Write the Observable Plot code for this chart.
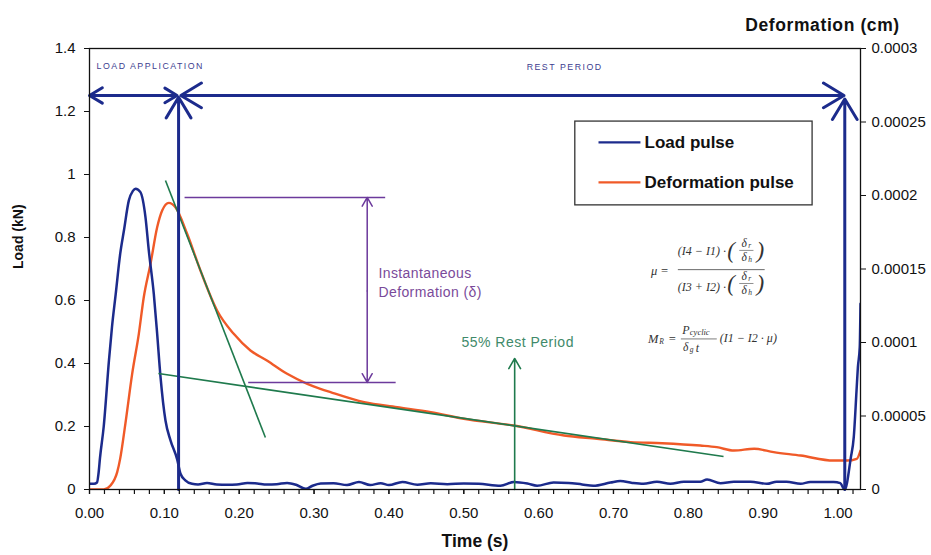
<!DOCTYPE html>
<html><head><meta charset="utf-8">
<script src="https://cdn.jsdelivr.net/npm/d3@7"></script>
<script src="https://cdn.jsdelivr.net/npm/@observablehq/plot@0.6"></script>
<style>body{margin:0;background:#fff}</style>
</head><body><div id="chart"></div>
<script>
// ---- data: [time (s), load (kN)]
const loadPulse = [
  [0.000,0.018],[0.006,0.018],[0.010,0.022],[0.012,0.05],[0.014,0.10],[0.019,0.20],[0.026,0.41],
  [0.030,0.515],[0.035,0.62],[0.041,0.748],[0.046,0.822],[0.0525,0.917],[0.058,0.948],[0.0615,0.955],
  [0.068,0.944],[0.0748,0.864],[0.0792,0.759],[0.0859,0.621],[0.0904,0.494],[0.0949,0.357],
  [0.1015,0.219],[0.1082,0.156],[0.1172,0.095],[0.1216,0.05],[0.128,0.029],[0.137,0.018],
  [0.145,0.016],[0.157,0.021],[0.170,0.016],[0.184,0.015],[0.197,0.016],[0.211,0.021],[0.224,0.019],
  [0.237,0.016],[0.250,0.017],[0.264,0.021],[0.276,0.015],[0.289,0.002],[0.298,0.012],[0.309,0.019],
  [0.326,0.020],[0.344,0.014],[0.360,0.024],[0.375,0.014],[0.389,0.020],[0.400,0.014],[0.418,0.024],
  [0.438,0.015],[0.456,0.020],[0.478,0.017],[0.500,0.019],[0.520,0.018],[0.549,0.012],[0.567,0.024],
  [0.585,0.019],[0.598,0.012],[0.620,0.022],[0.640,0.021],[0.658,0.016],[0.673,0.012],[0.696,0.022],
  [0.709,0.027],[0.725,0.021],[0.740,0.018],[0.758,0.025],[0.776,0.018],[0.794,0.025],[0.816,0.025],
  [0.825,0.032],[0.843,0.020],[0.861,0.025],[0.883,0.025],[0.905,0.018],[0.918,0.025],[0.931,0.025],
  [0.950,0.018],[0.963,0.024],[0.994,0.024],[1.003,0.020],[1.009,0.0],[1.017,0.10],[1.021,0.166],
  [1.0247,0.314],[1.0265,0.388],[1.029,0.452],[1.030,0.59]
];
// ---- data: [time (s), deformation (cm)]
const deformationPulse = [
  [0,0],[0.019,0],[0.028,0.0000027],[0.037,0.0000118],[0.041,0.000021],[0.048,0.000045],
  [0.057,0.0000787],[0.0659,0.0001059],[0.0725,0.0001308],[0.0815,0.0001535],[0.0904,0.0001784],
  [0.0971,0.0001898],[0.106,0.000195],[0.1148,0.000192],[0.1304,0.000174],[0.1482,0.000149],
  [0.1704,0.0001218],[0.1927,0.0001059],[0.215,0.0000946],[0.237,0.0000878],[0.264,0.0000787],
  [0.291,0.0000719],[0.3084,0.0000685],[0.322,0.0000662],[0.367,0.0000594],[0.411,0.000056],
  [0.456,0.0000526],[0.500,0.0000481],[0.567,0.0000435],[0.634,0.0000367],[0.678,0.0000345],
  [0.723,0.0000322],[0.765,0.0000315],[0.816,0.0000299],[0.838,0.0000288],[0.861,0.0000265],
  [0.888,0.0000277],[0.914,0.0000254],[0.950,0.0000231],[0.994,0.0000197],[1.012,0.0000197],
  [1.025,0.0000209],[1.030,0.0000265]
];
// ---- ticks
const timeTicks = [0,0.1,0.2,0.3,0.4,0.5,0.6,0.7,0.8,0.9,1.0];
const timeTickLabels = ["0.00","0.10","0.20","0.30","0.40","0.50","0.60","0.70","0.80","0.90","1.00"];
const timeMinorTicks = d3.range(0, 52).map(i => i * 0.02);
const loadTicks = [0,0.2,0.4,0.6,0.8,1,1.2,1.4];
const loadTickLabels = ["0","0.2","0.4","0.6","0.8","1","1.2","1.4"];
const defTicks = [0,0.00005,0.0001,0.00015,0.0002,0.00025,0.0003];
const defTickLabels = ["0","0.00005","0.0001","0.00015","0.0002","0.00025","0.0003"];
const legendItems = ["Load pulse","Deformation pulse"];

const loadMax = 1.4, defMax = 0.0003, ratio = loadMax / defMax;
const BLUE = "#1c2b8c", ORANGE = "#f05a28", GREEN = "#1f7a4d", PURPLE = "#6c3a9c";
const SANS = "Liberation Sans, Arial, sans-serif", SERIF = "Liberation Serif, Times New Roman, serif";

// ---- annotations (data coordinates)
const topArrows = [
  {x1:0.06,x2:0.0,y1:1.251,y2:1.251},{x1:0.06,x2:0.117,y1:1.251,y2:1.251},
  {x1:0.56,x2:0.122,y1:1.251,y2:1.251},{x1:0.56,x2:1.008,y1:1.251,y2:1.251},
  {x1:0.119,x2:0.119,y1:0,y2:1.245},{x1:1.009,x2:1.009,y1:0,y2:1.24}
];
const phaseLabels = [{x:0.0094,y:1.344,t:"LOAD APPLICATION"},{x:0.584,y:1.340,t:"REST PERIOD"}];
const greenLines = [{x1:0.1015,y1:0.981,x2:0.235,y2:0.165},{x1:0.092,y1:0.368,x2:0.847,y2:0.105}];
const purpleLines = [{x1:0.127,x2:0.395,y1:0.927,y2:0.927},{x1:0.212,x2:0.409,y1:0.340,y2:0.340}];
const purpleArrows = [{x1:0.371,x2:0.371,y1:0.63,y2:0.927},{x1:0.371,x2:0.371,y1:0.63,y2:0.340}];
const legendBox = {x1:0.649,x2:0.966,y1:0.902,y2:1.168};
const legendRows = [{y:1.102,c:BLUE},{y:0.975,c:ORANGE}];

const formula = [
  {x:0.750,y:0.695,t:"μ =",s:12.5},
  {x:0.786,y:0.758,t:"(I4 − I1) ·",s:12},
  {x:0.852,y:0.757,t:"(",s:23},{x:0.891,y:0.757,t:")",s:23},
  {x:0.871,y:0.781,t:"δ",s:11.5},{x:0.880,y:0.775,t:"r",s:7.5},
  {x:0.871,y:0.737,t:"δ",s:11.5},{x:0.880,y:0.731,t:"h",s:7.5},
  {x:0.786,y:0.641,t:"(I3 + I2) ·",s:12},
  {x:0.852,y:0.652,t:"(",s:23},{x:0.891,y:0.652,t:")",s:23},
  {x:0.871,y:0.676,t:"δ",s:11.5},{x:0.880,y:0.670,t:"r",s:7.5},
  {x:0.871,y:0.632,t:"δ",s:11.5},{x:0.880,y:0.626,t:"h",s:7.5},
  {x:0.746,y:0.479,t:"M",s:12.5},{x:0.761,y:0.469,t:"R",s:7.5},{x:0.773,y:0.479,t:"=",s:12.5},
  {x:0.792,y:0.506,t:"P",s:12},{x:0.802,y:0.498,t:"cyclic",s:8.5},
  {x:0.793,y:0.450,t:"δ",s:11.5},{x:0.802,y:0.443,t:"g",s:7.5},{x:0.810,y:0.450,t:"t",s:12},
  {x:0.842,y:0.479,t:"(I1 − I2 · μ)",s:12}
];
const formulaBars = [
  {x1:0.786,x2:0.902,y:0.698,w:0.8},
  {x1:0.868,x2:0.887,y:0.759,w:0.6},{x1:0.868,x2:0.887,y:0.654,w:0.6},
  {x1:0.790,x2:0.838,y:0.478,w:0.7}
];

const plot = Plot.plot({
  width: 931, height: 555,
  marginLeft: 89, marginRight: 71, marginTop: 48, marginBottom: 66,
  style: {fontFamily: SANS, fontSize: "15px", color: "#111", background: "#fff"},
  x: {domain: [0, 1.03]},
  y: {domain: [0, loadMax]},
  marks: [
    // curves
    Plot.line(deformationPulse, {x: d => d[0], y: d => d[1] * ratio, stroke: ORANGE, strokeWidth: 2.4, curve: "monotone-x", clip: true}),
    Plot.line(loadPulse, {x: d => d[0], y: d => d[1], stroke: BLUE, strokeWidth: 2.5, curve: "monotone-x", clip: true}),
    // green tangents and rest-period marker
    Plot.link(greenLines, {x1:"x1",y1:"y1",x2:"x2",y2:"y2", stroke: GREEN, strokeWidth: 1.6}),
    Plot.arrow([{x:0.568}], {x1:"x",x2:"x",y1:()=>0,y2:()=>0.416, stroke: GREEN, strokeWidth: 1.6, headLength: 11, headAngle: 60}),
    Plot.text(["55% Rest Period"], {x:()=>0.572, y:()=>0.467, fill:"#3f8a6a", fontSize: 14, textAnchor:"middle"}),
    // purple instantaneous deformation
    Plot.link(purpleLines, {x1:"x1",y1:"y1",x2:"x2",y2:"y2", stroke: PURPLE, strokeWidth: 1.5}),
    Plot.arrow(purpleArrows, {x1:"x1",y1:"y1",x2:"x2",y2:"y2", stroke: PURPLE, strokeWidth: 1.5, headLength: 10, headAngle: 60}),
    Plot.text(["Instantaneous","Deformation (δ)"], {x:()=>0.386, y:(d,i)=> i ? 0.625 : 0.686, fill:"#7a4a9a", fontSize: 14, textAnchor:"start"}),
    // blue phase arrows
    Plot.arrow(topArrows, {x1:"x1",y1:"y1",x2:"x2",y2:"y2", stroke: BLUE, strokeWidth: 3, headLength: 12, headAngle: 62}),
    Plot.text(phaseLabels, {x:"x", y:"y", text:"t", fill:"#3d3d8f", fontSize: 8.8, textAnchor:"start"}),
    // formulas
    Plot.text(formula, {x:"x", y:"y", text:"t", fontSize:"s", fontFamily: SERIF, fontStyle:"italic", fill:"#333", textAnchor:"start"}),
    Plot.link(formulaBars, {x1:"x1",x2:"x2",y1:"y",y2:"y", stroke:"#444", strokeWidth:"w"}),
    // legend
    Plot.rect([legendBox], {x1:"x1",x2:"x2",y1:"y1",y2:"y2", fill:"#fff", stroke:"#333", strokeWidth:1.3}),
    Plot.link(legendRows, {x1:()=>0.680, x2:()=>0.736, y1:"y", y2:"y", stroke: d => d.c, strokeWidth: 2.2}),
    Plot.text(legendItems, {x:()=>0.7415, y:(d,i)=> legendRows[i].y, fontSize: 17, fontWeight:"bold", fill:"#111", textAnchor:"start"}),
    // frame and axes
    Plot.frame({stroke:"#111", strokeWidth: 1.3}),
    Plot.axisX(timeMinorTicks, {tickSize: 5, tickFormat: () => "", label: null, strokeWidth: 1.2}),
    Plot.axisX(timeTicks, {tickSize: 5, tickPadding: 13, label: null, tickFormat: d => timeTickLabels[timeTicks.indexOf(d)], strokeWidth: 1.2}),
    Plot.axisY(loadTicks, {anchor:"left", tickSize: 5, tickPadding: 9, label: null, tickFormat: d => loadTickLabels[loadTicks.indexOf(d)]}),
    Plot.axisY(defTicks.map(v => v * ratio), {anchor:"right", tickSize: 5, tickPadding: 6, label: null, tickFormat: d => defTickLabels[Math.round(d / ratio / 0.00005)]}),
    // axis titles
    Plot.text(["Load (kN)"], {frameAnchor:"left", dx:-71, rotate:-90, fontSize: 14, fontWeight:"bold", fill:"#111"}),
    Plot.text(["Time (s)"], {frameAnchor:"bottom", dy:57, fontSize: 17.5, fontWeight:"bold", fill:"#111", textAnchor:"middle"}),
    Plot.text(["Deformation (cm)"], {frameAnchor:"top-right", dx:-38, dy:-30, fontSize: 17.5, fontWeight:"bold", fill:"#111", textAnchor:"middle"})
  ]
});
const spacing = {"LOAD APPLICATION":"1.5px","REST PERIOD":"1.5px","55% Rest Period":"0.5px","Instantaneous":"0.4px","Deformation (δ)":"0.4px","Deformation (cm)":"0.6px"};
d3.select(plot).selectAll("text").each(function(){
  const s = spacing[this.textContent];
  if (s) d3.select(this).attr("letter-spacing", s);
});
document.getElementById("chart").appendChild(plot);
</script>
</body></html>
